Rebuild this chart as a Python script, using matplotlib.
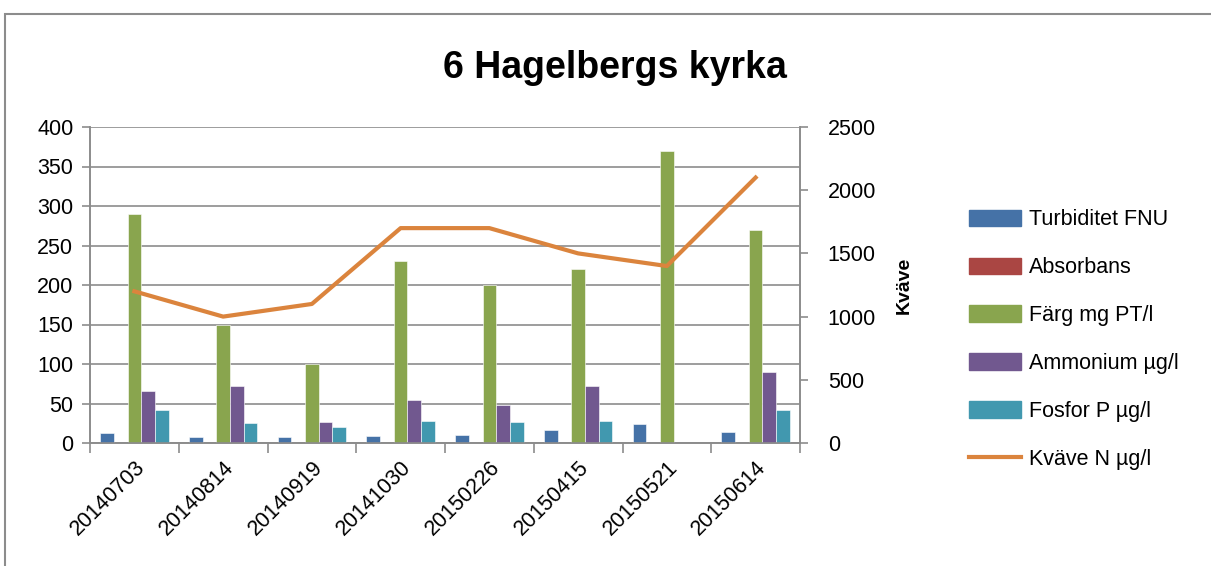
import numpy as np
import matplotlib as mpl
mpl.use('Agg')
from matplotlib import pyplot as plt
from matplotlib.patches import Rectangle
from matplotlib.lines import Line2D

# data
dates = ["20140703", "20140814", "20140919", "20141030",
         "20150226", "20150415", "20150521", "20150614"]
turbiditet = [13, 8, 8, 9, 10, 16, 24, 14]
absorbans = [0, 0, 0, 0, 0, 0, 0, 0]
farg = [290, 150, 100, 230, 200, 220, 370, 270]
ammonium = [66, 72, 26, 54, 48, 72, 0, 90]
fosfor = [42, 25, 20, 28, 27, 28, 0, 42]
kvave = [1200, 1000, 1100, 1700, 1700, 1500, 1400, 2100]

bar_series = [
    ("Turbiditet FNU", turbiditet, "#4572A7"),
    ("Absorbans", absorbans, "#AA4643"),
    ("Färg mg PT/l", farg, "#89A54E"),
    ("Ammonium µg/l", ammonium, "#71588F"),
    ("Fosfor P µg/l", fosfor, "#4198AF"),
]
line_color = "#DB843D"

plt.rcParams['font.family'] = ['Liberation Sans', 'DejaVu Sans']

fig = plt.figure(figsize=(12.11, 5.66), dpi=100)
# outer chart border
fig.patches.append(Rectangle((5 / 1211, -0.1), 1.2, 1 - 14 / 566 + 0.1,
                             transform=fig.transFigure, fill=False,
                             edgecolor="#8c8c8c", linewidth=1.5))

ax = fig.add_axes([90 / 1211, 1 - 443 / 566, 710 / 1211, 316 / 566])
ax2 = ax.twinx()

x = np.arange(len(dates))
w = 1 / 6.5
handles = []
for i, (name, vals, col) in enumerate(bar_series):
    ax.bar(x - 2.5 * w + (i + 0.5) * w, vals, width=w, color=col,
           edgecolor="white", linewidth=0.4, zorder=3)
    handles.append(Rectangle((0, 0), 1, 1, color=col, label=name))

ax2.plot(x, kvave, color=line_color, linewidth=3, zorder=4)
handles.append(Line2D([], [], color=line_color, linewidth=3,
                      label="Kväve N µg/l"))

ax.set_xlim(-0.5, len(dates) - 0.5)
ax.set_ylim(0, 400)
ax.set_yticks(np.arange(0, 401, 50))
ax2.set_ylim(0, 2500)
ax2.set_yticks(np.arange(0, 2501, 500))

ax.grid(axis="y", color="#8c8c8c", linewidth=1.2, zorder=0)
ax.set_axisbelow(True)

ax.set_xticks(x)
ax.set_xticklabels(dates, rotation=45, ha="right", rotation_mode="anchor")
ax.set_xticks(np.arange(-0.5, len(dates)), minor=True)
ax.tick_params(axis="x", which="major", length=0, pad=10, labelsize=15.5)
ax.tick_params(axis="x", which="minor", length=7, color="#8c8c8c", width=1.2)
ax.tick_params(axis="y", length=6, color="#8c8c8c", width=1.2,
               labelsize=15.5, pad=6)
ax2.tick_params(axis="y", length=6, color="#8c8c8c", width=1.2,
                labelsize=15.5, pad=14)

for a in (ax, ax2):
    a.spines["top"].set_visible(False)
    for s in ("left", "right", "bottom"):
        a.spines[s].set_color("#8c8c8c")
        a.spines[s].set_linewidth(1.2)

ax2.set_ylabel("Kväve", fontsize=14, fontweight="bold", labelpad=14)

fig.text(615 / 1211, 1 - 68 / 566, "6 Hagelbergs kyrka", fontsize=27,
         fontweight="bold", ha="center", va="center")

fig.legend(handles=handles, loc="upper left",
           bbox_to_anchor=(950 / 1211, 1 - 190 / 566), frameon=False,
           fontsize=15.5, handlelength=2.4, handleheight=0.8,
           labelspacing=1.25, handletextpad=0.35)

fig.savefig("out.png", dpi=100)
